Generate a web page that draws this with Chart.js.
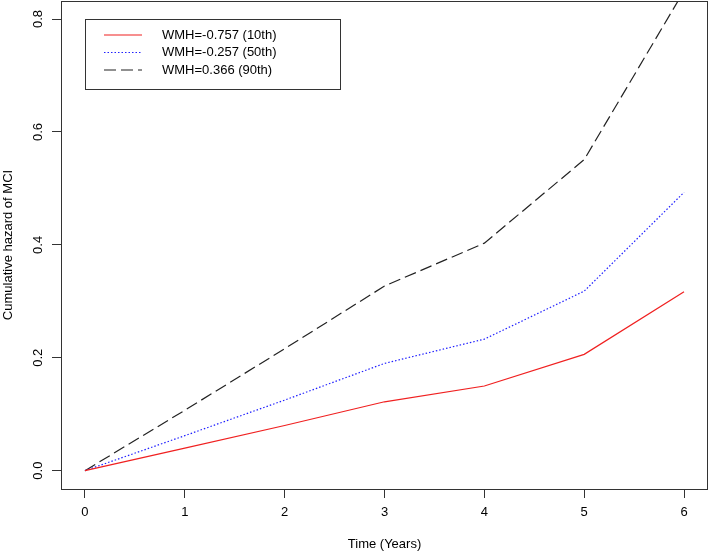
<!DOCTYPE html>
<html>
<head>
<meta charset="utf-8">
<script src="https://cdn.jsdelivr.net/npm/chart.js@4.4.1/dist/chart.umd.min.js"></script>
<style>
  html, body { margin: 0; padding: 0; background: #fff; }
  #chart { display: block; }
</style>
</head>
<body>
<canvas id="chart" width="709" height="552"></canvas>
<script>
// cumulative hazard of MCI by WMH percentile
const times = [0, 1, 2, 3, 4, 5, 6];
const wmh10 = [0, 0.040, 0.080, 0.122, 0.150, 0.206, 0.317];
const wmh50 = [0, 0.062, 0.125, 0.190, 0.233, 0.318, 0.493];
const wmh90 = [0, 0.107, 0.216, 0.327, 0.403, 0.551, 0.850];
const seriesNames = ["WMH=-0.757 (10th)", "WMH=-0.257 (50th)", "WMH=0.366 (90th)"];
const xTicks = [0, 1, 2, 3, 4, 5, 6];
const yTicks = [0, 0.2, 0.4, 0.6, 0.8];

const FONT = "'Liberation Sans', Arial, Helvetica, sans-serif";

function toPoints(ys) {
  return times.map(function (t, i) { return { x: t, y: ys[i] }; });
}

// R-ish box, rotated y labels, titles and legend
const rDecor = {
  id: 'rDecor',
  afterDraw: function (chart) {
    const ctx = chart.ctx;
    const a = chart.chartArea;
    const ys = chart.scales.y;
    ctx.save();
    ctx.strokeStyle = '#333';
    ctx.lineWidth = 1;
    ctx.strokeRect(a.left + 0.5, a.top + 0.5, a.right - a.left - 1, a.bottom - a.top);

    ctx.fillStyle = '#000';
    ctx.font = '13px ' + FONT;
    ctx.textAlign = 'center';
    ctx.textBaseline = 'middle';
    yTicks.forEach(function (v) {
      ctx.save();
      ctx.translate(38, ys.getPixelForValue(v));
      ctx.rotate(-Math.PI / 2);
      ctx.fillText(v.toFixed(1), 0, 0);
      ctx.restore();
    });

    ctx.fillText('Time (Years)', (a.left + a.right) / 2, 544);
    ctx.save();
    ctx.translate(8, (a.top + a.bottom) / 2);
    ctx.rotate(-Math.PI / 2);
    ctx.fillText('Cumulative hazard of MCI', 0, 0);
    ctx.restore();

    // legend
    ctx.strokeStyle = '#333';
    ctx.strokeRect(85.5, 19.5, 255, 70);
    chart.data.datasets.forEach(function (ds, i) {
      const y = 35 + i * 17.5;
      ctx.save();
      ctx.strokeStyle = ds.borderColor;
      ctx.lineWidth = ds.borderWidth;
      ctx.setLineDash(ds.borderDash || []);
      ctx.beginPath();
      ctx.moveTo(104, y);
      ctx.lineTo(142, y);
      ctx.stroke();
      ctx.restore();
      ctx.textAlign = 'left';
      ctx.fillText(ds.label, 162, y);
    });
    ctx.restore();
  }
};

new Chart(document.getElementById('chart'), {
  type: 'line',
  data: {
    datasets: [
      { label: seriesNames[0], data: toPoints(wmh10), borderColor: '#f02020', borderWidth: 1.2 },
      { label: seriesNames[1], data: toPoints(wmh50), borderColor: '#2020ff', borderWidth: 1.2, borderDash: [1.5, 2] },
      { label: seriesNames[2], data: toPoints(wmh90), borderColor: '#222', borderWidth: 1.2, borderDash: [12, 5] }
    ]
  },
  options: {
    responsive: false,
    animation: false,
    devicePixelRatio: 1,
    layout: { padding: { top: 1, right: 1, left: 0, bottom: 0 } },
    elements: { point: { radius: 0 }, line: { tension: 0 } },
    plugins: { legend: { display: false }, tooltip: { enabled: false } },
    scales: {
      x: {
        type: 'linear',
        min: -0.24,
        max: 6.24,
        afterBuildTicks: function (s) { s.ticks = xTicks.map(function (v) { return { value: v }; }); },
        afterFit: function (s) { s.height = 63; s.paddingLeft = 0; s.paddingRight = 0; },
        border: { display: false },
        grid: { drawOnChartArea: false, drawTicks: true, tickLength: 9, color: '#333', lineWidth: 1 },
        ticks: { color: '#000', font: { family: FONT, size: 13 }, padding: 7, maxRotation: 0 }
      },
      y: {
        type: 'linear',
        min: -0.0325,
        max: 0.832,
        afterBuildTicks: function (s) { s.ticks = yTicks.map(function (v) { return { value: v }; }); },
        afterFit: function (s) { s.width = 61; s.paddingTop = 0; s.paddingBottom = 0; },
        border: { display: false },
        grid: { drawOnChartArea: false, drawTicks: true, tickLength: 9, color: '#333', lineWidth: 1 },
        ticks: { display: false }
      }
    }
  },
  plugins: [rDecor]
});
</script>
</body>
</html>
